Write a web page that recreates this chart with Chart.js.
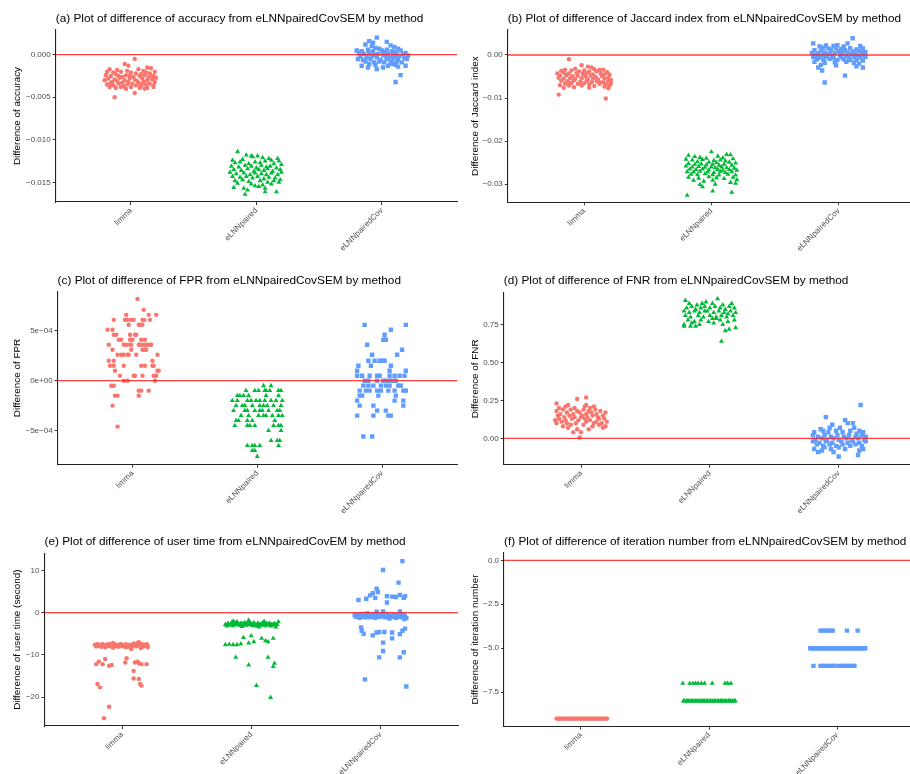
<!DOCTYPE html>
<html>
<head>
<meta charset="utf-8">
<script src="https://cdn.jsdelivr.net/npm/chart.js@4.4.1/dist/chart.umd.min.js"></script>
<style>
    body { margin: 0; background: #fff; width: 910px; height: 774px; overflow: hidden; position: relative; }
    canvas { position: absolute; }
</style>
</head>
<body>
<canvas id="plot-a"></canvas>
<canvas id="plot-b"></canvas>
<canvas id="plot-c"></canvas>
<canvas id="plot-d"></canvas>
<canvas id="plot-e"></canvas>
<canvas id="plot-f"></canvas>
<script>
// categories on the x axis
var methods = ['limma', 'eLNNpaired', 'eLNNpairedCov'];

// every point is [jitter offset from its method, difference value]

// (a) accuracy
var accuracyLimma = [[0.03,-0.0005],[-0.13,-0.0050],[0.03,-0.0045],[-0.05,-0.0011],[-0.02,-0.0013],[0.13,-0.0015],[0.16,-0.0016],[-0.17,-0.0017],[-0.11,-0.0018],[0.06,-0.0017],[0.10,-0.0019],[-0.19,-0.0020],[-0.14,-0.0021],[-0.08,-0.0020],[-0.03,-0.0019],[0.00,-0.0021],[0.04,-0.0022],[0.08,-0.0023],[0.12,-0.0021],[0.15,-0.0022],[0.19,-0.0020],[-0.20,-0.0024],[-0.16,-0.0025],[-0.12,-0.0023],[-0.07,-0.0026],[-0.04,-0.0024],[0.02,-0.0026],[0.07,-0.0025],[0.11,-0.0024],[0.14,-0.0027],[0.18,-0.0025],[-0.18,-0.0028],[-0.13,-0.0029],[-0.09,-0.0027],[-0.05,-0.0030],[-0.01,-0.0028],[0.03,-0.0029],[0.05,-0.0031],[0.09,-0.0028],[0.13,-0.0030],[0.17,-0.0029],[0.20,-0.0027],[-0.21,-0.0030],[-0.15,-0.0032],[-0.11,-0.0031],[-0.07,-0.0033],[-0.02,-0.0032],[0.01,-0.0034],[0.06,-0.0033],[0.10,-0.0032],[0.15,-0.0034],[0.19,-0.0032],[-0.19,-0.0035],[-0.14,-0.0036],[-0.10,-0.0034],[-0.06,-0.0037],[-0.03,-0.0035],[0.04,-0.0036],[0.08,-0.0037],[0.12,-0.0035],[0.18,-0.0036],[-0.17,-0.0038],[-0.12,-0.0039],[-0.08,-0.0038],[0.00,-0.0038],[0.07,-0.0039],[0.11,-0.0040],[0.18,-0.0038],[-0.16,-0.0033],[0.16,-0.0025],[-0.01,-0.0024],[0.09,-0.0034],[-0.10,-0.0025],[0.13,-0.0039],[-0.04,-0.0040]];
var accuracyPaired = [[-0.15,-0.0114],[-0.08,-0.0118],[-0.04,-0.0119],[-0.03,-0.0120],[0.01,-0.0119],[0.10,-0.0122],[0.17,-0.0122],[-0.19,-0.0124],[-0.11,-0.0123],[0.05,-0.0121],[0.12,-0.0124],[0.18,-0.0125],[-0.17,-0.0127],[-0.13,-0.0126],[-0.06,-0.0128],[-0.01,-0.0126],[0.03,-0.0127],[0.07,-0.0125],[0.14,-0.0128],[0.20,-0.0129],[-0.20,-0.0131],[-0.14,-0.0132],[-0.09,-0.0130],[-0.04,-0.0131],[0.00,-0.0133],[0.04,-0.0130],[0.08,-0.0132],[0.11,-0.0131],[0.16,-0.0133],[-0.18,-0.0135],[-0.12,-0.0136],[-0.07,-0.0134],[-0.02,-0.0137],[0.02,-0.0135],[0.06,-0.0136],[0.09,-0.0134],[0.13,-0.0137],[0.19,-0.0135],[-0.21,-0.0138],[-0.16,-0.0140],[-0.10,-0.0139],[-0.05,-0.0141],[-0.01,-0.0139],[0.04,-0.0140],[0.08,-0.0141],[0.12,-0.0139],[0.17,-0.0141],[0.20,-0.0138],[-0.19,-0.0143],[-0.13,-0.0144],[-0.08,-0.0143],[-0.03,-0.0145],[0.01,-0.0143],[0.06,-0.0146],[0.10,-0.0144],[0.15,-0.0145],[-0.17,-0.0148],[-0.11,-0.0147],[-0.06,-0.0149],[0.03,-0.0148],[0.09,-0.0150],[0.14,-0.0148],[0.19,-0.0147],[-0.15,-0.0151],[-0.04,-0.0152],[0.05,-0.0153],[0.12,-0.0152],[0.18,-0.0150],[-0.18,-0.0156],[-0.10,-0.0157],[-0.01,-0.0154],[0.02,-0.0155],[0.07,-0.0157],[-0.09,-0.0164],[0.07,-0.0161],[0.16,-0.0161],[-0.07,-0.0159]];
var accuracyCov = [[-0.04,0.0020],[-0.13,0.0012],[-0.08,0.0010],[0.07,0.0011],[0.10,0.0009],[-0.05,0.0008],[-0.02,0.0007],[0.04,0.0006],[0.13,0.0007],[-0.20,0.0005],[-0.16,0.0004],[-0.11,0.0006],[-0.07,0.0004],[0.00,0.0005],[0.02,0.0003],[0.08,0.0004],[0.11,0.0003],[0.15,0.0005],[0.19,0.0002],[-0.18,0.0002],[-0.14,0.0001],[-0.10,0.0002],[-0.06,0.0000],[-0.03,0.0001],[0.01,0.0000],[0.05,0.0001],[0.09,-0.0001],[0.12,0.0000],[0.17,0.0001],[0.21,-0.0001],[-0.17,-0.0002],[-0.12,-0.0003],[-0.08,-0.0002],[-0.04,-0.0003],[0.03,-0.0002],[0.06,-0.0004],[0.10,-0.0003],[0.14,-0.0002],[0.18,-0.0004],[-0.19,-0.0005],[-0.15,-0.0006],[-0.09,-0.0005],[-0.01,-0.0006],[0.04,-0.0005],[0.08,-0.0007],[0.13,-0.0006],[0.20,-0.0005],[-0.13,-0.0008],[-0.06,-0.0009],[-0.02,-0.0008],[0.02,-0.0009],[0.07,-0.0010],[0.12,-0.0008],[0.16,-0.0009],[-0.10,-0.0011],[-0.05,-0.0012],[0.05,-0.0013],[0.09,-0.0011],[0.13,-0.0014],[0.19,-0.0013],[-0.16,-0.0013],[-0.11,-0.0015],[0.01,-0.0015],[-0.04,-0.0017],[0.11,-0.0012],[0.15,-0.0024],[0.11,-0.0032],[-0.07,0.0014],[0.04,0.0015],[-0.10,0.0016]];
var accuracyTicks = [0, -0.005, -0.01, -0.015];
var accuracyTickLabels = ['0.000', '\u22120.005', '\u22120.010', '\u22120.015'];

// (b) Jaccard index
var jaccardLimma = [[-0.12,-0.0010],[-0.20,-0.0092],[0.17,-0.0101],[-0.02,-0.0024],[0.03,-0.0027],[0.06,-0.0029],[-0.07,-0.0032],[-0.15,-0.0034],[0.08,-0.0033],[0.12,-0.0035],[0.15,-0.0034],[-0.18,-0.0037],[-0.10,-0.0036],[-0.04,-0.0038],[0.00,-0.0036],[0.04,-0.0039],[0.10,-0.0038],[0.18,-0.0040],[-0.21,-0.0043],[-0.16,-0.0041],[-0.12,-0.0043],[-0.06,-0.0042],[-0.01,-0.0044],[0.02,-0.0042],[0.07,-0.0045],[0.13,-0.0043],[0.16,-0.0045],[0.20,-0.0046],[-0.19,-0.0048],[-0.14,-0.0047],[-0.09,-0.0049],[-0.05,-0.0048],[0.01,-0.0050],[0.05,-0.0048],[0.09,-0.0051],[0.14,-0.0049],[0.19,-0.0052],[-0.20,-0.0053],[-0.16,-0.0055],[-0.11,-0.0054],[-0.07,-0.0056],[-0.02,-0.0054],[0.03,-0.0057],[0.07,-0.0055],[0.11,-0.0057],[0.16,-0.0055],[0.21,-0.0058],[-0.18,-0.0060],[-0.13,-0.0061],[-0.08,-0.0059],[-0.03,-0.0062],[0.02,-0.0060],[0.06,-0.0063],[0.10,-0.0061],[0.15,-0.0063],[0.19,-0.0061],[-0.15,-0.0066],[-0.10,-0.0065],[-0.05,-0.0067],[0.00,-0.0066],[0.04,-0.0068],[0.12,-0.0067],[0.17,-0.0068],[0.21,-0.0066],[-0.19,-0.0070],[-0.12,-0.0071],[-0.02,-0.0071],[0.08,-0.0072],[0.16,-0.0073],[0.20,-0.0071],[-0.16,-0.0076],[0.04,-0.0076],[0.19,-0.0077],[-0.08,-0.0075],[0.13,-0.0064]];
var jaccardPaired = [[0.00,-0.0225],[-0.18,-0.0233],[0.12,-0.0231],[0.15,-0.0232],[-0.13,-0.0236],[-0.09,-0.0238],[0.05,-0.0235],[0.09,-0.0239],[-0.04,-0.0240],[0.17,-0.0241],[-0.20,-0.0242],[-0.15,-0.0244],[-0.07,-0.0243],[0.02,-0.0245],[0.07,-0.0244],[0.11,-0.0246],[-0.11,-0.0248],[-0.02,-0.0249],[0.04,-0.0250],[0.14,-0.0249],[0.19,-0.0251],[-0.18,-0.0252],[-0.13,-0.0254],[-0.08,-0.0253],[-0.04,-0.0255],[0.01,-0.0254],[0.06,-0.0256],[0.10,-0.0254],[0.16,-0.0256],[-0.20,-0.0258],[-0.15,-0.0260],[-0.10,-0.0259],[-0.05,-0.0261],[0.00,-0.0260],[0.03,-0.0262],[0.08,-0.0260],[0.12,-0.0262],[0.18,-0.0263],[-0.17,-0.0265],[-0.12,-0.0266],[-0.07,-0.0265],[-0.02,-0.0267],[0.05,-0.0266],[0.09,-0.0268],[0.14,-0.0266],[0.20,-0.0268],[-0.19,-0.0271],[-0.14,-0.0272],[-0.09,-0.0270],[-0.03,-0.0272],[0.02,-0.0273],[0.07,-0.0271],[0.11,-0.0273],[0.16,-0.0271],[-0.16,-0.0277],[-0.11,-0.0278],[-0.05,-0.0276],[0.01,-0.0278],[0.06,-0.0279],[0.13,-0.0277],[0.19,-0.0279],[-0.18,-0.0284],[-0.10,-0.0286],[-0.02,-0.0283],[0.04,-0.0285],[0.10,-0.0287],[0.17,-0.0284],[0.20,-0.0290],[-0.14,-0.0291],[-0.06,-0.0293],[0.01,-0.0291],[0.15,-0.0296],[-0.09,-0.0301],[0.03,-0.0300],[0.19,-0.0298],[-0.19,-0.0326],[0.01,-0.0316],[0.16,-0.0319],[-0.07,-0.0306]];
var jaccardCov = [[0.11,0.0039],[0.07,0.0027],[-0.20,0.0027],[-0.15,0.0020],[-0.10,0.0022],[-0.04,0.0021],[-0.01,0.0023],[0.04,0.0020],[0.17,0.0021],[-0.12,0.0017],[-0.08,0.0015],[-0.02,0.0016],[0.02,0.0014],[0.09,0.0016],[0.14,0.0013],[0.19,0.0015],[-0.19,0.0011],[-0.14,0.0010],[-0.06,0.0012],[0.00,0.0009],[0.05,0.0011],[0.11,0.0008],[0.16,0.0010],[0.21,0.0007],[-0.21,0.0005],[-0.16,0.0004],[-0.11,0.0006],[-0.07,0.0003],[-0.03,0.0005],[0.03,0.0004],[0.07,0.0006],[0.13,0.0003],[0.18,0.0005],[-0.18,0.0000],[-0.13,-0.0001],[-0.09,0.0001],[-0.05,-0.0001],[0.01,0.0000],[0.06,-0.0002],[0.10,0.0001],[0.15,-0.0001],[0.20,0.0000],[-0.20,-0.0005],[-0.15,-0.0006],[-0.10,-0.0004],[-0.04,-0.0006],[0.02,-0.0005],[0.08,-0.0007],[0.12,-0.0005],[0.17,-0.0006],[0.21,-0.0004],[-0.17,-0.0010],[-0.12,-0.0011],[-0.07,-0.0009],[-0.01,-0.0012],[0.04,-0.0010],[0.09,-0.0012],[0.14,-0.0011],[0.19,-0.0013],[-0.19,-0.0016],[-0.11,-0.0018],[-0.03,-0.0017],[0.06,-0.0016],[0.12,-0.0018],[0.16,-0.0020],[-0.14,-0.0023],[-0.02,-0.0024],[0.14,-0.0026],[0.19,-0.0029],[-0.13,-0.0036],[-0.11,-0.0064],[0.05,-0.0048],[-0.16,-0.0029]];
var jaccardTicks = [0, -0.01, -0.02, -0.03];
var jaccardTickLabels = ['0.00', '\u22120.01', '\u22120.02', '\u22120.03'];

// (c) FPR
var fprLimma = [[0.04,8.2e-4],[0.09,7.1e-4],[-0.05,6.6e-4],[0.13,6.6e-4],[0.19,6.6e-4],[-0.15,6.1e-4],[-0.06,6.1e-4],[-0.04,6.1e-4],[-0.01,6.1e-4],[0.01,6.1e-4],[0.08,6.1e-4],[0.095,6.1e-4],[0.14,6.1e-4],[-0.03,5.6e-4],[0.05,5.6e-4],[0.065,5.6e-4],[0.08,5.6e-4],[-0.20,5.1e-4],[-0.16,5.1e-4],[-0.15,4.6e-4],[-0.13,4.6e-4],[-0.02,4.6e-4],[0.02,4.6e-4],[0.03,4.6e-4],[-0.11,4.1e-4],[-0.09,4.1e-4],[-0.02,4.1e-4],[0.00,4.1e-4],[0.07,4.1e-4],[0.10,4.1e-4],[-0.19,3.6e-4],[-0.07,3.6e-4],[-0.05,3.6e-4],[-0.02,3.6e-4],[-0.01,3.6e-4],[0.05,3.6e-4],[0.06,3.6e-4],[0.08,3.6e-4],[0.10,3.6e-4],[0.12,3.6e-4],[0.14,3.6e-4],[0.15,3.6e-4],[-0.16,3.1e-4],[-0.01,3.1e-4],[0.08,3.1e-4],[0.10,3.1e-4],[0.11,3.1e-4],[-0.12,2.6e-4],[-0.09,2.6e-4],[-0.07,2.6e-4],[-0.04,2.6e-4],[-0.03,2.6e-4],[0.03,2.6e-4],[0.20,2.6e-4],[-0.19,2.0e-4],[-0.15,2.0e-4],[0.16,2.0e-4],[-0.18,1.5e-4],[-0.15,1.5e-4],[-0.07,1.5e-4],[0.07,1.5e-4],[0.10,1.5e-4],[0.16,1.5e-4],[0.17,1.5e-4],[-0.14,1.0e-4],[0.20,1.0e-4],[0.21,1.0e-4],[-0.10,0.5e-4],[0.01,0.5e-4],[0.02,0.5e-4],[0.08,0.5e-4],[0.17,0.5e-4],[0.19,0.5e-4],[-0.07,0],[-0.04,0],[0.18,0],[-0.17,-0.5e-4],[-0.15,-0.5e-4],[0.05,-1.0e-4],[0.07,-1.0e-4],[0.13,-1.0e-4],[-0.14,-1.5e-4],[-0.12,-1.5e-4],[0.05,-1.5e-4],[-0.16,-2.5e-4],[-0.12,-4.6e-4]];
var fprPaired = [[0.05,-0.5e-4],[0.11,-0.5e-4],[-0.09,-1.0e-4],[-0.02,-1.0e-4],[0.01,-1.0e-4],[0.06,-1.0e-4],[0.07,-1.0e-4],[0.10,-1.0e-4],[0.17,-1.0e-4],[0.19,-1.0e-4],[-0.16,-1.5e-4],[-0.14,-1.5e-4],[-0.11,-1.5e-4],[-0.07,-1.5e-4],[0.07,-1.5e-4],[0.17,-1.5e-4],[-0.20,-2.0e-4],[-0.16,-2.0e-4],[-0.08,-2.0e-4],[-0.05,-2.0e-4],[-0.01,-2.0e-4],[0.02,-2.0e-4],[0.06,-2.0e-4],[0.11,-2.0e-4],[0.15,-2.0e-4],[0.20,-2.0e-4],[-0.17,-2.5e-4],[-0.12,-2.5e-4],[-0.10,-2.5e-4],[-0.04,-2.5e-4],[0.02,-2.5e-4],[0.05,-2.5e-4],[0.08,-2.5e-4],[0.13,-2.5e-4],[0.19,-2.5e-4],[-0.19,-3.0e-4],[-0.10,-3.0e-4],[-0.08,-3.0e-4],[-0.02,-3.0e-4],[0.02,-3.0e-4],[0.04,-3.0e-4],[0.09,-3.0e-4],[0.16,-3.0e-4],[0.18,-3.0e-4],[-0.13,-3.5e-4],[-0.07,-3.5e-4],[0.01,-3.5e-4],[0.05,-3.5e-4],[0.07,-3.5e-4],[0.12,-3.5e-4],[0.17,-3.5e-4],[0.20,-3.5e-4],[-0.17,-4.0e-4],[-0.15,-4.0e-4],[-0.08,-4.0e-4],[-0.04,-4.0e-4],[0.14,-4.0e-4],[-0.18,-4.5e-4],[-0.08,-4.5e-4],[-0.06,-4.5e-4],[-0.02,-4.5e-4],[0.13,-4.5e-4],[0.17,-4.5e-4],[0.19,-4.5e-4],[0.09,-5.0e-4],[0.19,-5.0e-4],[0.11,-6.0e-4],[0.16,-6.0e-4],[0.18,-6.0e-4],[-0.08,-6.5e-4],[-0.04,-6.5e-4],[-0.02,-6.5e-4],[0.02,-6.5e-4],[0.17,-6.5e-4],[-0.04,-7.0e-4],[-0.02,-7.0e-4],[0.00,-7.6e-4]];
var fprCov = [[-0.14,5.6e-4],[0.19,5.6e-4],[0.07,5.1e-4],[0.02,4.6e-4],[0.01,4.1e-4],[0.03,4.1e-4],[-0.12,3.6e-4],[0.16,3.1e-4],[-0.08,2.6e-4],[0.12,2.6e-4],[-0.11,2.0e-4],[-0.06,2.0e-4],[-0.02,2.0e-4],[0.00,2.0e-4],[0.02,2.0e-4],[-0.19,1.5e-4],[-0.09,1.5e-4],[0.07,1.5e-4],[-0.20,1.0e-4],[0.06,1.0e-4],[0.19,1.0e-4],[-0.20,0.5e-4],[-0.16,0.5e-4],[-0.10,0.5e-4],[-0.04,0.5e-4],[-0.02,0.5e-4],[0.06,0.5e-4],[0.10,0.5e-4],[0.14,0.5e-4],[0.18,0.5e-4],[-0.14,0],[-0.11,0],[-0.04,0],[0.01,0],[0.03,0],[0.06,0],[0.09,0],[0.11,0],[-0.15,-0.5e-4],[-0.11,-0.5e-4],[-0.07,-0.5e-4],[-0.01,-0.5e-4],[0.03,-0.5e-4],[0.06,-0.5e-4],[0.13,-0.5e-4],[0.15,-0.5e-4],[-0.18,-1.0e-4],[-0.13,-1.0e-4],[-0.10,-1.0e-4],[-0.04,-1.0e-4],[-0.01,-1.0e-4],[0.05,-1.0e-4],[0.10,-1.0e-4],[0.17,-1.0e-4],[0.19,-1.0e-4],[-0.18,-1.5e-4],[-0.16,-1.5e-4],[-0.03,-1.5e-4],[0.11,-1.5e-4],[-0.20,-2.0e-4],[0.10,-2.0e-4],[0.17,-2.0e-4],[-0.18,-2.5e-4],[-0.07,-2.5e-4],[0.17,-2.5e-4],[-0.04,-3.0e-4],[0.03,-3.0e-4],[-0.20,-3.5e-4],[-0.07,-3.5e-4],[0.05,-3.5e-4],[0.07,-3.5e-4],[-0.15,-5.6e-4],[-0.08,-5.6e-4]];
var fprTicks = [5e-4, 0, -5e-4];
var fprTickLabels = ['5e\u221204', '0e+00', '\u22125e\u221204'];

// (d) FNR
var fnrLimma = [[-0.01,0.005],[-0.06,0.04],[0.00,0.04],[-0.03,0.06],[0.06,0.06],[0.17,0.07],[0.19,0.08],[-0.14,0.08],[-0.10,0.07],[0.09,0.08],[0.14,0.09],[-0.19,0.10],[-0.15,0.11],[-0.08,0.09],[-0.04,0.10],[0.02,0.09],[0.04,0.11],[0.10,0.10],[0.16,0.10],[0.20,0.11],[-0.20,0.12],[-0.17,0.13],[-0.12,0.12],[-0.07,0.13],[-0.02,0.12],[0.03,0.13],[0.07,0.12],[0.12,0.11],[0.18,0.13],[-0.18,0.15],[-0.13,0.14],[-0.09,0.15],[-0.05,0.14],[0.01,0.15],[0.05,0.14],[0.09,0.15],[0.13,0.14],[0.17,0.15],[-0.16,0.16],[-0.11,0.17],[-0.06,0.16],[-0.01,0.17],[0.04,0.16],[0.08,0.17],[0.12,0.16],[0.15,0.18],[0.19,0.17],[-0.19,0.18],[-0.14,0.19],[-0.08,0.19],[-0.03,0.18],[0.02,0.19],[0.06,0.18],[0.11,0.19],[-0.17,0.20],[-0.12,0.21],[-0.05,0.20],[0.03,0.21],[0.07,0.20],[0.10,0.21],[-0.19,0.23],[-0.10,0.22],[0.04,0.22],[-0.03,0.26],[0.04,0.27],[0.14,0.13],[0.00,0.14],[-0.11,0.10]];
var fnrPaired = [[-0.19,0.91],[0.06,0.92],[-0.16,0.89],[-0.10,0.88],[-0.06,0.89],[-0.03,0.90],[0.02,0.89],[0.10,0.88],[0.17,0.89],[-0.18,0.86],[-0.14,0.87],[-0.11,0.85],[-0.07,0.86],[-0.04,0.87],[0.00,0.86],[0.04,0.87],[0.08,0.86],[0.12,0.85],[0.15,0.87],[0.19,0.86],[-0.20,0.84],[-0.16,0.83],[-0.12,0.84],[-0.08,0.83],[-0.02,0.84],[0.03,0.83],[0.07,0.84],[0.11,0.83],[0.16,0.84],[0.20,0.83],[-0.19,0.81],[-0.15,0.80],[-0.09,0.81],[-0.05,0.80],[0.00,0.81],[0.05,0.80],[0.09,0.81],[0.13,0.80],[0.18,0.81],[-0.17,0.78],[-0.12,0.77],[-0.07,0.78],[-0.01,0.77],[0.02,0.79],[0.08,0.78],[0.14,0.77],[0.19,0.78],[-0.20,0.75],[-0.14,0.76],[-0.08,0.75],[0.03,0.76],[0.10,0.75],[-0.20,0.74],[-0.11,0.74],[-0.15,0.74],[0.12,0.71],[0.15,0.72],[0.20,0.73],[0.09,0.64],[0.05,0.79],[-0.04,0.84],[0.14,0.82]];
var fnrCov = [[0.17,0.22],[-0.10,0.14],[0.05,0.12],[0.07,0.10],[0.11,0.10],[-0.05,0.09],[-0.14,0.06],[-0.07,0.07],[0.01,0.07],[0.12,0.07],[0.16,0.05],[-0.19,0.04],[-0.12,0.05],[-0.08,0.04],[-0.02,0.05],[0.03,0.04],[0.09,0.05],[0.14,0.03],[0.19,0.04],[-0.20,0.02],[-0.16,0.01],[-0.11,0.02],[-0.06,0.01],[-0.01,0.02],[0.04,0.01],[0.08,0.02],[0.13,0.01],[0.18,0.02],[0.21,0.01],[-0.18,-0.01],[-0.13,0.00],[-0.09,-0.01],[-0.04,0.00],[0.00,-0.01],[0.06,0.00],[0.10,-0.01],[0.15,0.00],[0.20,-0.01],[-0.20,-0.02],[-0.15,-0.03],[-0.10,-0.02],[-0.05,-0.03],[0.02,-0.02],[0.07,-0.03],[0.11,-0.02],[0.16,-0.03],[0.21,-0.02],[-0.17,-0.04],[-0.12,-0.05],[-0.07,-0.04],[-0.02,-0.05],[0.03,-0.04],[0.09,-0.05],[0.13,-0.04],[0.18,-0.05],[-0.19,-0.07],[-0.13,-0.08],[-0.06,-0.07],[0.00,-0.06],[0.05,-0.07],[0.16,-0.08],[0.19,-0.07],[-0.16,-0.09],[-0.04,-0.09],[0.15,-0.11],[0.00,-0.12],[-0.11,-0.06]];
var fnrTicks = [0.75, 0.5, 0.25, 0];
var fnrTickLabels = ['0.75', '0.50', '0.25', '0.00'];

// (e) user time in seconds
var timeLimma = [[-0.21,-7.6],[-0.20,-8.0],[-0.19,-7.4],[-0.18,-7.9],[-0.17,-7.7],[-0.16,-8.1],[-0.15,-7.5],[-0.14,-7.8],[-0.13,-8.2],[-0.12,-7.6],[-0.11,-7.9],[-0.10,-7.4],[-0.09,-8.0],[-0.08,-7.7],[-0.07,-8.3],[-0.06,-7.5],[-0.05,-7.9],[-0.04,-7.6],[-0.03,-8.1],[-0.02,-7.8],[-0.01,-7.4],[0.00,-8.0],[0.01,-7.7],[0.02,-7.9],[0.03,-7.5],[0.04,-8.1],[0.05,-7.8],[0.06,-7.6],[0.07,-8.6],[0.08,-7.9],[0.09,-7.3],[0.10,-7.7],[0.11,-8.0],[0.12,-7.5],[0.13,-7.0],[0.14,-7.8],[0.15,-7.4],[0.16,-8.1],[0.17,-7.6],[0.18,-7.9],[0.19,-7.5],[0.20,-8.2],[-0.185,-7.8],[-0.155,-7.6],[-0.125,-7.9],[-0.095,-7.7],[-0.065,-7.8],[-0.035,-7.9],[-0.005,-7.6],[0.025,-7.8],[0.055,-8.0],[0.085,-7.6],[0.115,-7.8],[0.145,-7.6],[0.175,-7.8],[0.195,-7.7],[0.12,-7.2],[0.145,-8.4],[-0.07,-7.2],[0.03,-8.2],[-0.20,-12.2],[-0.18,-11.6],[-0.15,-12.2],[-0.13,-11.0],[-0.10,-12.6],[-0.08,-12.4],[0.025,-11.8],[0.035,-10.8],[0.10,-11.8],[0.12,-11.6],[0.13,-12.0],[0.15,-12.2],[0.19,-12.2],[0.09,-13.8],[0.09,-15.6],[0.13,-15.7],[0.15,-17.3],[0.14,-16.9],[-0.19,-16.9],[-0.17,-17.7],[-0.10,-22.3],[-0.14,-25.0]];
var timePaired = [[-0.20,-2.8],[-0.19,-3.2],[-0.18,-2.5],[-0.17,-3.0],[-0.16,-2.7],[-0.15,-2.3],[-0.14,-3.1],[-0.13,-2.6],[-0.12,-2.9],[-0.11,-2.2],[-0.10,-2.7],[-0.09,-3.0],[-0.08,-2.5],[-0.07,-3.3],[-0.06,-2.8],[-0.05,-2.4],[-0.04,-3.0],[-0.03,-2.6],[-0.02,-2.1],[-0.01,-2.9],[0.00,-2.6],[0.01,-3.1],[0.02,-2.4],[0.03,-2.8],[0.04,-3.2],[0.05,-2.5],[0.06,-2.9],[0.07,-2.7],[0.08,-3.0],[0.09,-2.4],[0.10,-2.8],[0.11,-3.1],[0.12,-2.6],[0.13,-2.9],[0.14,-2.5],[0.15,-3.2],[0.16,-2.7],[0.17,-3.0],[0.18,-2.6],[0.19,-3.4],[0.20,-2.8],[0.21,-2.2],[-0.185,-2.9],[-0.155,-2.6],[-0.125,-2.4],[-0.095,-2.7],[-0.065,-2.6],[-0.035,-2.8],[-0.005,-2.7],[0.025,-3.0],[0.055,-2.7],[0.085,-2.6],[0.115,-2.6],[0.145,-2.8],[0.175,-2.8],[-0.02,-1.8],[0.06,-3.4],[-0.14,-2.0],[0.10,-2.1],[-0.20,-7.6],[-0.17,-7.5],[-0.14,-7.6],[-0.11,-7.6],[-0.08,-7.4],[-0.06,-5.9],[-0.02,-7.2],[0.00,-5.5],[0.02,-6.9],[0.08,-6.1],[0.11,-6.7],[0.13,-6.9],[0.17,-6.1],[-0.12,-10.6],[-0.02,-12.4],[0.13,-10.6],[0.17,-12.8],[0.18,-12.0],[0.04,-17.3],[0.15,-20.1]];
var timeCov = [[-0.20,-0.6],[-0.19,-1.0],[-0.18,-0.4],[-0.17,-0.8],[-0.16,-1.2],[-0.15,-0.5],[-0.14,-0.9],[-0.13,-0.3],[-0.12,-1.1],[-0.11,-0.7],[-0.10,-0.2],[-0.09,-0.9],[-0.08,-0.6],[-0.07,-1.0],[-0.06,-0.4],[-0.05,-0.8],[-0.04,-1.2],[-0.03,0.2],[-0.02,-0.7],[-0.01,-1.0],[0.00,-0.5],[0.01,-0.9],[0.02,0.3],[0.03,-0.6],[0.04,-1.1],[0.05,-0.8],[0.06,-0.4],[0.07,-1.4],[0.08,-0.7],[0.09,-1.0],[0.10,-0.5],[0.11,-0.9],[0.12,-1.2],[0.13,-0.6],[0.14,-1.0],[0.15,0.3],[0.16,-0.8],[0.17,-1.1],[0.18,-0.5],[0.19,-0.9],[0.20,-1.3],[-0.145,-0.7],[-0.085,-1.1],[-0.025,-0.9],[0.035,-0.3],[0.095,-0.7],[0.155,-0.6],[0.185,-1.5],[0.02,10.1],[0.17,12.2],[0.14,7.1],[-0.17,3.0],[-0.11,3.3],[-0.08,4.1],[-0.06,4.6],[-0.03,5.7],[-0.02,4.9],[-0.04,3.5],[0.05,2.4],[0.05,3.9],[0.09,3.8],[0.12,3.7],[0.15,4.2],[0.18,3.5],[0.19,3.9],[-0.15,-3.5],[-0.145,-4.3],[-0.13,-5.0],[-0.06,-5.4],[-0.03,-4.7],[-0.01,-4.6],[0.03,-4.6],[0.09,-4.7],[0.09,-6.1],[0.15,-5.1],[0.17,-4.3],[0.19,-3.8],[0.02,-7.1],[0.02,-9.1],[0.18,-9.4],[-0.01,-10.6],[0.15,-10.6],[-0.12,-15.8],[0.20,-17.5]];
var timeTicks = [10, 0, -10, -20];
var timeTickLabels = ['10', '0', '\u221210', '\u221220'];

// (f) iteration number
var iterLimma = [[-0.19,-9],[-0.18,-9],[-0.175,-9],[-0.165,-9],[-0.15,-9],[-0.14,-9],[-0.13,-9],[-0.125,-9],[-0.11,-9],[-0.1,-9],[-0.09,-9],[-0.085,-9],[-0.07,-9],[-0.06,-9],[-0.045,-9],[-0.04,-9],[-0.03,-9],[-0.02,-9],[-0.005,-9],[0.005,-9],[0.01,-9],[0.02,-9],[0.035,-9],[0.045,-9],[0.05,-9],[0.06,-9],[0.075,-9],[0.085,-9],[0.09,-9],[0.1,-9],[0.115,-9],[0.125,-9],[0.13,-9],[0.14,-9],[0.155,-9],[0.165,-9],[0.17,-9],[0.18,-9],[0.195,-9],[0.205,-9]];
var iterPaired = [[-0.205,-7],[-0.15,-7],[-0.125,-7],[-0.105,-7],[-0.085,-7],[-0.06,-7],[-0.035,-7],[0.025,-7],[0.125,-7],[0.145,-7],[0.17,-7],[-0.2,-8],[-0.19,-8],[-0.175,-8],[-0.165,-8],[-0.155,-8],[-0.14,-8],[-0.13,-8],[-0.12,-8],[-0.105,-8],[-0.095,-8],[-0.08,-8],[-0.07,-8],[-0.055,-8],[-0.045,-8],[-0.035,-8],[-0.02,-8],[-0.01,-8],[0.005,-8],[0.015,-8],[0.03,-8],[0.04,-8],[0.05,-8],[0.065,-8],[0.075,-8],[0.09,-8],[0.1,-8],[0.11,-8],[0.125,-8],[0.135,-8],[0.15,-8],[0.16,-8],[0.17,-8],[0.185,-8],[0.195,-8],[0.205,-8]];
var iterCov = [[-0.13,-4],[-0.11,-4],[-0.09,-4],[-0.07,-4],[-0.05,-4],[-0.035,-4],[0.077,-4],[0.16,-4],[-0.21,-5],[-0.195,-5],[-0.18,-5],[-0.17,-5],[-0.155,-5],[-0.14,-5],[-0.13,-5],[-0.115,-5],[-0.1,-5],[-0.09,-5],[-0.075,-5],[-0.06,-5],[-0.05,-5],[-0.035,-5],[-0.02,-5],[-0.01,-5],[0.005,-5],[0.02,-5],[0.03,-5],[0.045,-5],[0.06,-5],[0.07,-5],[0.085,-5],[0.1,-5],[0.11,-5],[0.125,-5],[0.14,-5],[0.15,-5],[0.165,-5],[0.18,-5],[0.19,-5],[0.205,-5],[0.22,-5],[-0.185,-6],[-0.13,-6],[-0.115,-6],[-0.095,-6],[-0.07,-6],[-0.05,-6],[-0.035,-6],[-0.02,-6],[0.015,-6],[0.035,-6],[0.05,-6],[0.07,-6],[0.09,-6],[0.105,-6],[0.12,-6],[0.135,-6]];
var iterTicks = [0, -2.5, -5, -7.5];
var iterTickLabels = ['0.0', '\u22122.5', '\u22125.0', '\u22127.5'];

// reference line drawn on every panel
var referenceValue = 0;

var FONT = "'Liberation Sans', Arial, Helvetica, sans-serif";
var colours = ['#F8766D', '#00BA38', '#619CFF'];
var shapes = ['circle', 'triangle', 'rect'];
var radii = [2.2, 2.9, 3.1];
var xMin = 0.4, xMax = 3.6;

var panels = [
    { id: 'plot-a', left: 0, top: 0, width: 461, height: 258, yWidth: 55.7, xHeight: 56, titleTop: 11.2, plotTop: 30, yTitlePad: 11.4,
      title: '(a) Plot of difference of accuracy from eLNNpairedCovSEM by method', yTitle: 'Difference of accuracy',
      series: [accuracyLimma, accuracyPaired, accuracyCov], yMin: -0.0173, yMax: 0.0029, ticks: accuracyTicks, tickLabels: accuracyTickLabels },
    { id: 'plot-b', left: 455, top: 0, width: 464, height: 258, yWidth: 52.8, xHeight: 55.7, titleTop: 11.2, plotTop: 30, yTitlePad: 14,
      title: '(b) Plot of difference of Jaccard index from eLNNpairedCovSEM by method', yTitle: 'Difference of Jaccard index',
      series: [jaccardLimma, jaccardPaired, jaccardCov], yMin: -0.0342, yMax: 0.0058, ticks: jaccardTicks, tickLabels: jaccardTickLabels },
    { id: 'plot-c', left: 0, top: 258, width: 461, height: 258, yWidth: 57.6, xHeight: 51.3, titleTop: 15.2, plotTop: 33.3, yTitlePad: 11.4,
      title: '(c) Plot of difference of FPR from eLNNpairedCovSEM by method', yTitle: 'Difference of FPR',
      series: [fprLimma, fprPaired, fprCov], yMin: -8.42e-4, yMax: 8.96e-4, ticks: fprTicks, tickLabels: fprTickLabels },
    { id: 'plot-d', left: 455, top: 258, width: 465, height: 258, yWidth: 48.7, xHeight: 51.3, titleTop: 15.2, plotTop: 35, yTitlePad: 14,
      title: '(d) Plot of difference of FNR from eLNNpairedCovSEM by method', yTitle: 'Difference of FNR',
      series: [fnrLimma, fnrPaired, fnrCov], yMin: -0.174, yMax: 0.959, ticks: fnrTicks, tickLabels: fnrTickLabels },
    { id: 'plot-e', left: 0, top: 516, width: 462, height: 258, yWidth: 44.5, xHeight: 48, titleTop: 18.6, plotTop: 37.3, yTitlePad: 11.4,
      title: '(e) Plot of difference of user time from eLNNpairedCovEM by method', yTitle: 'Difference of user time (second)',
      series: [timeLimma, timePaired, timeCov], yMin: -26.86, yMax: 14.06, ticks: timeTicks, tickLabels: timeTickLabels },
    { id: 'plot-f', left: 455, top: 516, width: 463, height: 258, yWidth: 49, xHeight: 47.5, titleTop: 18.6, plotTop: 36.4, yTitlePad: 14.7,
      title: '(f) Plot of difference of iteration number from eLNNpairedCovSEM by method', yTitle: 'Difference of iteration number',
      series: [iterLimma, iterPaired, iterCov], yMin: -9.45, yMax: 0.45, ticks: iterTicks, tickLabels: iterTickLabels }
];

Chart.defaults.font.family = FONT;

function jitteredPoints(offsets, position) {
    return offsets.map(function (p) { return { x: position + p[0], y: p[1] }; });
}

function drawPanel(p) {
    var canvas = document.getElementById(p.id);
    canvas.width = p.width;
    canvas.height = p.height;
    canvas.style.left = p.left + 'px';
    canvas.style.top = p.top + 'px';

    var titleLine = 11.8 * 1.2;
    var datasets = [{
        type: 'line',
        data: [{ x: xMin, y: referenceValue }, { x: xMax, y: referenceValue }],
        borderColor: 'rgba(255, 30, 30, 0.85)',
        borderWidth: 1.3,
        pointRadius: 0,
        fill: false
    }];
    for (var i = 0; i < methods.length; i++) {
        datasets.push({
            label: methods[i],
            data: jitteredPoints(p.series[i], i + 1),
            pointStyle: shapes[i],
            pointRadius: radii[i],
            backgroundColor: colours[i],
            borderWidth: 0
        });
    }

    new Chart(canvas, {
        type: 'scatter',
        data: { datasets: datasets },
        options: {
            responsive: false,
            animation: false,
            devicePixelRatio: 1,
            layout: { padding: 0 },
            plugins: {
                legend: { display: false },
                tooltip: { enabled: false },
                title: {
                    display: true,
                    text: p.title,
                    align: 'start',
                    fullSize: false,
                    color: '#000',
                    font: { size: 11.8, weight: 'normal' },
                    padding: { top: p.titleTop, bottom: p.plotTop - p.titleTop - titleLine }
                }
            },
            scales: {
                x: {
                    type: 'linear',
                    min: xMin,
                    max: xMax,
                    afterBuildTicks: function (s) { s.ticks = methods.map(function (m, k) { return { value: k + 1 }; }); },
                    afterFit: function (s) { s.height = p.xHeight; },
                    ticks: {
                        autoSkip: false,
                        minRotation: 45,
                        maxRotation: 45,
                        padding: 1,
                        color: '#4D4D4D',
                        font: { size: 8 },
                        callback: function (v, k) { return methods[k]; }
                    },
                    grid: { drawOnChartArea: false, color: '#333', tickLength: 3 },
                    border: { color: '#222', width: 1.1 }
                },
                y: {
                    min: p.yMin,
                    max: p.yMax,
                    afterBuildTicks: function (s) { s.ticks = p.ticks.map(function (v) { return { value: v }; }); },
                    afterFit: function (s) { s.width = p.yWidth; },
                    ticks: {
                        padding: 2,
                        color: '#4D4D4D',
                        font: { size: 8 },
                        callback: function (v, k) { return p.tickLabels[k]; }
                    },
                    grid: { drawOnChartArea: false, color: '#333', tickLength: 3 },
                    border: { color: '#222', width: 1.1 },
                    title: {
                        display: true,
                        text: p.yTitle,
                        color: '#000',
                        font: { size: 9.9 },
                        padding: { top: p.yTitlePad, bottom: 0 }
                    }
                }
            }
        }
    });
}

panels.forEach(drawPanel);
</script>
</body>
</html>
